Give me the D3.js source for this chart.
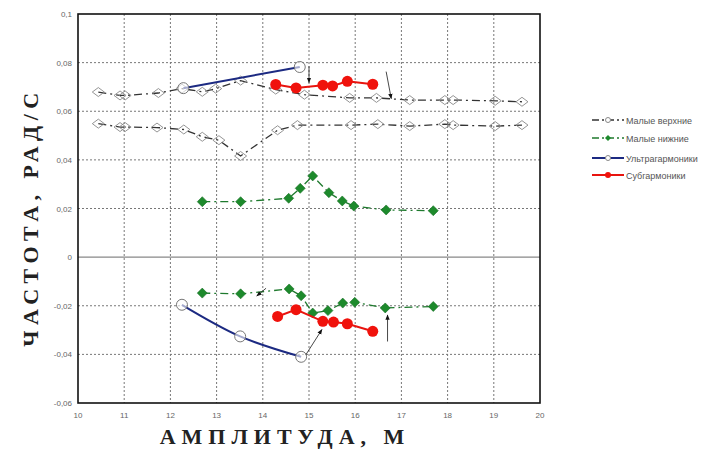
<!DOCTYPE html>
<html>
<head>
<meta charset="utf-8">
<title>Частота и амплитуда</title>
<script src="https://d3js.org/d3.v7.min.js"></script>
<style>
  body { margin: 0; background: #fff; }
  .tick-label { font-family: "Liberation Sans", Arial, sans-serif; font-size: 8px; fill: #666; }
  .legend-text { font-family: "Liberation Sans", Arial, sans-serif; font-size: 9px; fill: #555; }
  .axis-title { font-family: "Liberation Serif", "DejaVu Serif", serif; font-weight: bold; font-size: 22px; fill: #222; }
</style>
</head>
<body>
<script>
// --- data ---
var xTicks = [10, 11, 12, 13, 14, 15, 16, 17, 18, 19, 20];
var yTicks = [-0.06, -0.04, -0.02, 0, 0.02, 0.04, 0.06, 0.08, 0.1];

// Малые верхние: two branches
var upperTopX = [10.44, 10.91, 11.02, 11.74, 12.25, 12.69, 12.98, 13.52, 14.28, 14.9, 15.88, 16.46, 17.18, 17.94, 18.12, 19.03, 19.61];
var upperTopY = [0.0679, 0.0665, 0.0665, 0.0675, 0.0693, 0.068, 0.0693, 0.0726, 0.0689, 0.0668, 0.0655, 0.0655, 0.0646, 0.0646, 0.0646, 0.0643, 0.0639];
var upperLowX = [10.44, 10.91, 11.02, 11.71, 12.29, 12.69, 13.05, 13.52, 14.32, 14.75, 15.91, 16.49, 17.18, 17.94, 18.12, 19.03, 19.61];
var upperLowY = [0.0549, 0.0535, 0.0535, 0.0533, 0.0525, 0.0495, 0.0481, 0.0416, 0.0522, 0.0543, 0.0543, 0.0547, 0.0539, 0.0547, 0.0543, 0.0539, 0.0543];

// Малые нижние: positive and negative branch
var lowerPosX = [12.69, 13.52, 14.56, 14.81, 15.08, 15.43, 15.72, 15.97, 16.67, 17.69];
var lowerPosY = [0.0228, 0.0228, 0.0242, 0.0283, 0.0334, 0.0265, 0.0231, 0.021, 0.0194, 0.0191];
var lowerNegX = [12.69, 13.52, 14.57, 14.83, 15.08, 15.41, 15.73, 15.99, 16.65, 17.69];
var lowerNegY = [-0.0148, -0.0151, -0.0131, -0.0159, -0.023, -0.022, -0.0189, -0.0186, -0.0209, -0.0203];

// Ультрагармоники
var ultraPosX = [12.28, 14.8];
var ultraPosY = [0.0695, 0.0782];
var ultraNegX = [12.25, 13.51, 14.83];
var ultraNegY = [-0.0196, -0.0326, -0.041];

// Субгармоники
var subPosX = [14.28, 14.72, 15.3, 15.51, 15.83, 16.38];
var subPosY = [0.071, 0.0696, 0.0707, 0.0704, 0.0723, 0.0711];
var subNegX = [14.32, 14.72, 15.3, 15.53, 15.83, 16.38];
var subNegY = [-0.0244, -0.0216, -0.0264, -0.0267, -0.0274, -0.0305];

// arrows drawn on the chart: [x1, y1, x2, y2]
var arrows = [
  [16.67, 0.0763, 16.78, 0.0652],
  [15.0, 0.0785, 15.0, 0.0718],
  [14.93, -0.0402, 15.28, -0.0298],
  [16.7, -0.0347, 16.7, -0.0238],
  [14.07, -0.0128, 13.87, -0.016]
];

var legendNames = ["Малые верхние", "Малые нижние", "Ультрагармоники", "Субгармоники"];

function zip(xs, ys) { return xs.map(function(d, i) { return [d, ys[i]]; }); }
function diamondPath(w, h) { return "M0," + (-h) + "L" + w + ",0L0," + h + "L" + (-w) + ",0Z"; }

var width = 726, height = 451;
var margin = {top: 14, right: 186, bottom: 48, left: 78};

var svg = d3.select("body").append("svg")
  .attr("width", width)
  .attr("height", height);

var x = d3.scaleLinear().domain([10, 20]).range([margin.left, width - margin.right]);
var y = d3.scaleLinear().domain([-0.06, 0.1]).range([height - margin.bottom, margin.top]);

var fmt = function(d) { return String(+d.toFixed(2)).replace(".", ","); };

// grid
svg.append("g").selectAll("line")
  .data(xTicks.slice(1, -1))
  .join("line")
  .attr("x1", function(d) { return x(d); }).attr("x2", function(d) { return x(d); })
  .attr("y1", y(0.1)).attr("y2", y(-0.06))
  .attr("stroke", "#777").attr("stroke-width", 1).attr("stroke-dasharray", "2,2");

svg.append("g").selectAll("line")
  .data(yTicks.filter(function(d) { return d != 0 && d != 0.1 && d != -0.06; }))
  .join("line")
  .attr("x1", x(10)).attr("x2", x(20))
  .attr("y1", function(d) { return y(d); }).attr("y2", function(d) { return y(d); })
  .attr("stroke", "#777").attr("stroke-width", 1).attr("stroke-dasharray", "2,2");

svg.append("line")
  .attr("x1", x(10)).attr("x2", x(20))
  .attr("y1", y(0)).attr("y2", y(0))
  .attr("stroke", "#888").attr("stroke-width", 1.2);

// tick labels
svg.append("g").selectAll("text")
  .data(yTicks)
  .join("text")
  .attr("class", "tick-label")
  .attr("x", x(10) - 6)
  .attr("y", function(d) { return y(d) + 3; })
  .attr("text-anchor", "end")
  .text(fmt);

svg.append("g").selectAll("text")
  .data(xTicks)
  .join("text")
  .attr("class", "tick-label")
  .attr("x", function(d) { return x(d); })
  .attr("y", y(-0.06) + 15)
  .attr("text-anchor", "middle")
  .text(function(d) { return d; });

// arrow marker
svg.append("defs").append("marker")
  .attr("id", "arr")
  .attr("viewBox", "0 0 10 10")
  .attr("refX", 9).attr("refY", 5)
  .attr("markerWidth", 6).attr("markerHeight", 6)
  .attr("orient", "auto")
  .append("path").attr("d", "M0,1 L10,5 L0,9 Z").attr("fill", "#111");

var line = d3.line().x(function(d) { return x(d[0]); }).y(function(d) { return y(d[1]); });
var curve = d3.line().curve(d3.curveNatural).x(function(d) { return x(d[0]); }).y(function(d) { return y(d[1]); });

// Малые верхние
[zip(upperTopX, upperTopY), zip(upperLowX, upperLowY)].forEach(function(pts) {
  svg.append("path").datum(pts).attr("d", line)
    .attr("fill", "none").attr("stroke", "#333").attr("stroke-width", 1.3)
    .attr("stroke-dasharray", "8,4,2,4");
  svg.append("g").selectAll("path").data(pts).join("path")
    .attr("d", diamondPath(6, 4.5))
    .attr("transform", function(d) { return "translate(" + x(d[0]) + "," + y(d[1]) + ")"; })
    .attr("fill", "none").attr("stroke", "#888").attr("stroke-width", 0.9);
});

// Малые нижние
[zip(lowerPosX, lowerPosY), zip(lowerNegX, lowerNegY)].forEach(function(pts) {
  svg.append("path").datum(pts).attr("d", line)
    .attr("fill", "none").attr("stroke", "#1f7a2e").attr("stroke-width", 1.3)
    .attr("stroke-dasharray", "8,4,2,4");
  svg.append("g").selectAll("path").data(pts).join("path")
    .attr("d", diamondPath(5, 5))
    .attr("transform", function(d) { return "translate(" + x(d[0]) + "," + y(d[1]) + ")"; })
    .attr("fill", "#1d8a2c").attr("stroke", "#1a6f26").attr("stroke-width", 0.6);
});

// Ультрагармоники
[[zip(ultraPosX, ultraPosY), line], [zip(ultraNegX, ultraNegY), curve]].forEach(function(s) {
  svg.append("path").datum(s[0]).attr("d", s[1])
    .attr("fill", "none").attr("stroke", "#1c2a82").attr("stroke-width", 2);
  svg.append("g").selectAll("circle").data(s[0]).join("circle")
    .attr("cx", function(d) { return x(d[0]); })
    .attr("cy", function(d) { return y(d[1]); })
    .attr("r", 5.5)
    .attr("fill", "#fff").attr("fill-opacity", 0.6).attr("stroke", "#777").attr("stroke-width", 1);
});

// Субгармоники
[zip(subPosX, subPosY), zip(subNegX, subNegY)].forEach(function(pts) {
  svg.append("path").datum(pts).attr("d", line)
    .attr("fill", "none").attr("stroke", "#e8140f").attr("stroke-width", 2);
  svg.append("g").selectAll("circle").data(pts).join("circle")
    .attr("cx", function(d) { return x(d[0]); })
    .attr("cy", function(d) { return y(d[1]); })
    .attr("r", 5.5)
    .attr("fill", "#f0120c");
});

// arrows
svg.append("g").selectAll("line").data(arrows).join("line")
  .attr("x1", function(d) { return x(d[0]); }).attr("y1", function(d) { return y(d[1]); })
  .attr("x2", function(d) { return x(d[2]); }).attr("y2", function(d) { return y(d[3]); })
  .attr("stroke", "#333").attr("stroke-width", 0.9)
  .attr("marker-end", "url(#arr)");

// frame
svg.append("rect")
  .attr("x", x(10)).attr("y", y(0.1))
  .attr("width", x(20) - x(10)).attr("height", y(-0.06) - y(0.1))
  .attr("fill", "none").attr("stroke", "#111").attr("stroke-width", 1.6);

// axis titles
svg.append("text")
  .attr("class", "axis-title")
  .attr("x", 285).attr("y", 444)
  .attr("text-anchor", "middle")
  .attr("letter-spacing", 6)
  .text("АМПЛИТУДА, М");

svg.append("text")
  .attr("class", "axis-title")
  .attr("transform", "translate(38," + 217 + ") rotate(-90)")
  .attr("text-anchor", "middle")
  .attr("letter-spacing", 5.5)
  .text("ЧАСТОТА, РАД/С");

// legend
var lg = svg.append("g").attr("transform", "translate(592,120)");
var legendStyle = [
  {stroke: "#333", dash: "7,3,2,3", w: 1.3},
  {stroke: "#1f7a2e", dash: "7,3,2,3", w: 1.3},
  {stroke: "#1c2a82", dash: null, w: 2},
  {stroke: "#e8140f", dash: null, w: 2}
];
var legendY = [0, 18, 38, 55];
legendNames.forEach(function(name, i) {
  var g = lg.append("g").attr("transform", "translate(0," + legendY[i] + ")");
  g.append("line").attr("x1", 0).attr("x2", 32).attr("y1", 0).attr("y2", 0)
    .attr("stroke", legendStyle[i].stroke).attr("stroke-width", legendStyle[i].w)
    .attr("stroke-dasharray", legendStyle[i].dash);
  if (i == 0 || i == 2) {
    g.append("circle").attr("cx", 16).attr("cy", 0).attr("r", 2.5).attr("fill", "#fff").attr("stroke", "#888");
  } else if (i == 1) {
    g.append("path").attr("d", diamondPath(3, 3)).attr("transform", "translate(16,0)").attr("fill", "#1d8a2c");
  } else {
    g.append("circle").attr("cx", 16).attr("cy", 0).attr("r", 3).attr("fill", "#f0120c");
  }
  g.append("text").attr("class", "legend-text").attr("x", 34).attr("y", 3.5).text(name);
});
</script>
</body>
</html>
